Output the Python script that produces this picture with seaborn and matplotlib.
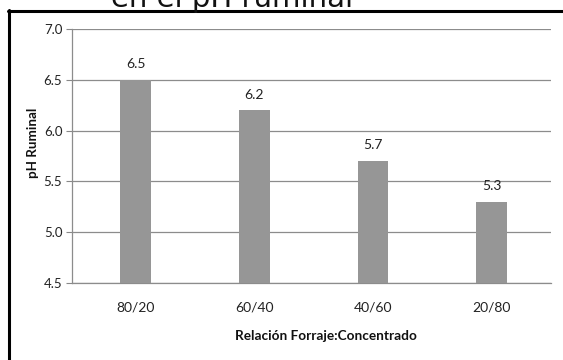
import matplotlib
matplotlib.use("Agg")
import matplotlib.pyplot as plt
from matplotlib.lines import Line2D
import seaborn as sns
import pandas as pd

# Forage:concentrate ratios and the resulting ruminal pH
ratios = ["80/20", "60/40", "40/60", "20/80"]
ph_values = [6.5, 6.2, 5.7, 5.3]
y_ticks = [4.5, 5.0, 5.5, 6.0, 6.5, 7.0]

df = pd.DataFrame({"ratio": ratios, "ph": ph_values})

sns.set_theme(style="white")
plt.rcParams["font.family"] = ["Lato", "DejaVu Sans"]

fig = plt.figure(figsize=(5.63, 3.6), dpi=100)
ax = fig.add_axes([72 / 563, 1 - 283 / 360, (551 - 72) / 563, (283 - 29) / 360])

sns.barplot(data=df, x="ratio", y="ph", color="#969696", width=0.26,
            saturation=1, linewidth=0, edgecolor="none", ax=ax, zorder=3)

ax.set_xlim(-0.535, 3.50)
ax.set_ylim(4.5, 7.0)
ax.set_yticks(y_ticks)
ax.set_yticklabels([f"{v:.1f}" for v in y_ticks], fontsize=9.5, color="#222222")
ax.tick_params(axis="x", labelsize=10, colors="#222222", length=0, pad=13)
ax.tick_params(axis="y", left=True, length=4, width=0.8, color="#888888", pad=3)
ax.grid(axis="y", color="#8c8c8c", linewidth=0.9, zorder=0)

for s in ["top", "right"]:
    ax.spines[s].set_visible(False)
for s in ["left", "bottom"]:
    ax.spines[s].set_color("#8c8c8c")
    ax.spines[s].set_linewidth(0.9)

for patch, val in zip(ax.patches, ph_values):
    ax.annotate(f"{val:.1f}", (patch.get_x() + patch.get_width() / 2, val),
                xytext=(0, 7), textcoords="offset points", ha="center",
                va="bottom", fontsize=10, color="#222222")

ax.set_xlabel("")
ax.set_ylabel("")
fig.text(326 / 563, 1 - 336 / 360, "Relación Forraje:Concentrado", ha="center",
         va="center", fontsize=9.8, fontweight="bold", color="#111111")
fig.text(33 / 563, 1 - 143 / 360, "pH Ruminal", ha="center", va="center",
         rotation=90, fontsize=9.6, fontweight="bold", color="#111111")

# Title running off the top edge
fig.text(232 / 563, 1 - 7 / 360, "en el pH ruminal", ha="center",
         va="baseline", fontsize=21, color="#111111",
         family=["DejaVu Sans"])

# Outer frame (left and top edges)
fig.add_artist(Line2D([9 / 563, 9 / 563], [0, 1 - 10 / 360],
                      color="black", linewidth=2.2, transform=fig.transFigure))
fig.add_artist(Line2D([8 / 563, 1], [1 - 10.5 / 360, 1 - 10.5 / 360],
                      color="black", linewidth=2.2, transform=fig.transFigure))

fig.savefig("out.png", dpi=100)
